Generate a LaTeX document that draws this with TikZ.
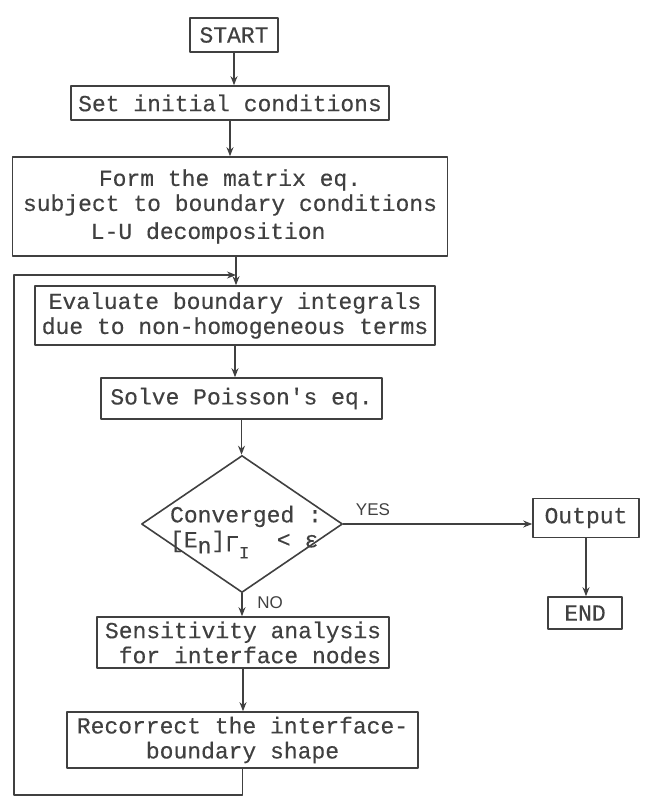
\documentclass[tikz,border=0pt]{standalone}
\usepackage{fontspec}
\setmonofont{Liberation Mono}[FakeBold=0.35]
\setsansfont{Liberation Sans}
\usetikzlibrary{shapes.geometric,arrows.meta}
\definecolor{ink}{gray}{0.25}
\tikzset{
  box/.style={draw=ink, line width=1.6pt, inner sep=0pt, text=ink,
    font=\ttfamily\fontsize{23}{25}\selectfont, align=center},
  decision/.style={draw=ink, line width=1.6pt, diamond, inner sep=0pt,
    minimum width=201pt, minimum height=137pt},
  flow/.style={draw=ink, line width=1.6pt, -{Stealth[length=9pt,width=7pt]}},
  plain/.style={draw=ink, line width=1.6pt},
  lab/.style={text=ink, font=\sffamily\fontsize{17}{19}\selectfont, inner sep=0pt}
}
\begin{document}
\begin{tikzpicture}[x=1pt, y=-1pt, line join=round, line cap=round]
\useasboundingbox (0,0) rectangle (645,810);
\path
(236,275) coordinate (join)
(14,795) coordinate (corner)
;
\node[box, minimum width=88, minimum height=34] (start) at (234,35) {START};
\node[box, minimum width=318, minimum height=34] (init) at (230,103) {Set initial conditions};
\node[box, minimum width=435, minimum height=99] (form) at (230,206.5)
  {Form the matrix eq.\\subject to boundary conditions\\[3pt]L-U decomposition\hspace*{1.9em}};
\node[box, minimum width=400, minimum height=59] (evaluate) at (235,315.5)
  {Evaluate boundary integrals\\due to non-homogeneous terms};
\node[box, minimum width=281, minimum height=41] (solve) at (241.5,398.5) {Solve Poisson's eq.};
\node[decision] (conv) at (242,524) {};
\node[box, draw=none, align=left] (convtxt) at (246,532)
  {Converged :\\{[}E\raisebox{-6pt}{n}{]}\raisebox{-4pt}{Γ\raisebox{-7pt}{\fontsize{17}{17}\selectfont I}}\ \ < ε};
\node[box, minimum width=106, minimum height=39] (output) at (586,518) {Output};
\node[box, minimum width=74, minimum height=32] (stop) at (585,613) {END};
\node[box, minimum width=292, minimum height=51, align=right] (sens) at (243,642.5)
  {Sensitivity analysis\\for interface nodes};
\node[box, minimum width=351, minimum height=56] (recor) at (242.5,740)
  {Recorrect the interface-\\boundary shape};
\node[lab] (yes) at (373,510) {YES};
\node[lab] (no) at (270,603) {NO};
% main column
\foreach \a/\b in {start/init, init/form, evaluate/solve, solve/conv, conv/sens, sens/recor}
  \draw[flow] (\a.south) -- (\a.south |- \b.north);
\draw[plain] (form.south -| join) -- (join);
\draw[flow] (join) -- (evaluate.north -| join);
\draw[flow] (recor.south) |- (corner) |- (join);
% exit
\draw[flow] (conv.east) -- (conv.east -| output.west);
\draw[flow] (output.south) -- (output.south |- stop.north);
\end{tikzpicture}
\end{document}
